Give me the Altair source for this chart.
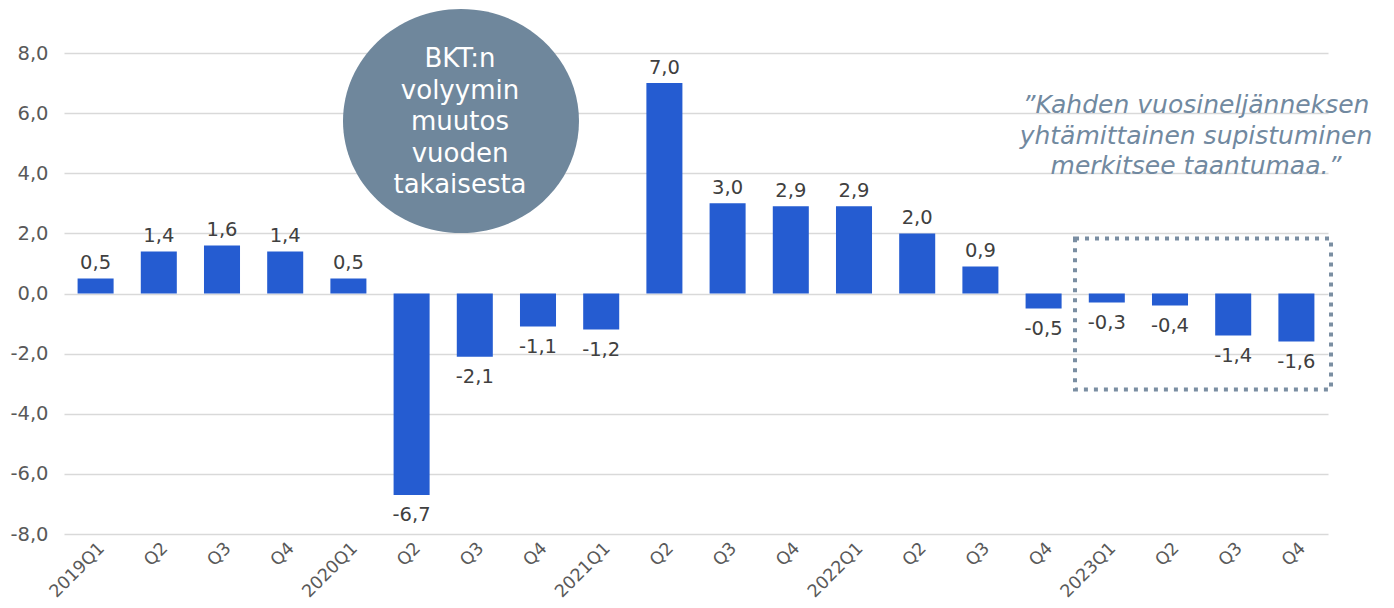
import altair as alt
import pandas as pd

quarters = ["2019Q1", "2019Q2", "2019Q3", "2019Q4",
            "2020Q1", "2020Q2", "2020Q3", "2020Q4",
            "2021Q1", "2021Q2", "2021Q3", "2021Q4",
            "2022Q1", "2022Q2", "2022Q3", "2022Q4",
            "2023Q1", "2023Q2", "2023Q3", "2023Q4"]
values = [0.5, 1.4, 1.6, 1.4, 0.5, -6.7, -2.1, -1.1, -1.2, 7.0,
          3.0, 2.9, 2.9, 2.0, 0.9, -0.5, -0.3, -0.4, -1.4, -1.6]
y_ticks = [-8, -6, -4, -2, 0, 2, 4, 6, 8]
circle_lines = ["BKT:n", "volyymin", "muutos", "vuoden", "takaisesta"]
quote_lines = ["\u201dKahden vuosineljänneksen", "yhtämittainen supistuminen", "merkitsee taantumaa.\u201d"]
box_y = [1.83, -3.19]

labels = [f"{v:.1f}".replace(".", ",") for v in values]
df = pd.DataFrame({"q": quarters, "v": values, "lab": labels})
ann = pd.DataFrame({"a": [0]})

FONT = "DejaVu Sans"

x = alt.X("q:N", sort=quarters,
          scale=alt.Scale(paddingInner=0.43, paddingOuter=0.215),
          axis=alt.Axis(title=None, domain=False, ticks=False, grid=False,
                        labelAngle=-45, labelFontSize=17.5, labelColor="#595959",
                        labelFont=FONT, labelPadding=5,
                        labelExpr="slice(datum.value, 4) == 'Q1' ? datum.value : slice(datum.value, 4)"))
y = alt.Y("v:Q", scale=alt.Scale(domain=[-8, 8], nice=False, zero=False),
          axis=alt.Axis(title=None, domain=False, ticks=False, grid=True,
                        values=y_ticks, gridColor="#d9d9d9", gridWidth=1.5,
                        labelPadding=16, labelFontSize=19.5, labelColor="#595959",
                        labelFont=FONT,
                        labelExpr="replace(replace(format(datum.value, '.1f'), '.', ','), '\u2212', '-')"))

base = alt.Chart(df)
bars = base.mark_bar(color="#255CD1").encode(x=x, y=y)

pos = base.transform_filter("datum.v >= 0").mark_text(
    dy=-9, baseline="alphabetic", fontSize=19.5, color="#404040", font=FONT
).encode(x=x, y=y, text="lab:N")
neg = base.transform_filter("datum.v < 0").mark_text(
    dy=26, baseline="alphabetic", fontSize=19.5, color="#404040", font=FONT
).encode(x=x, y=y, text="lab:N")

box = alt.Chart(ann).mark_rect(
    fillOpacity=0, stroke="#7A8EA2", strokeWidth=4, strokeDash=[4, 6]
).encode(x=alt.value(1011), x2=alt.value(1267),
         y=alt.datum(box_y[0]), y2=alt.datum(box_y[1]))

ellipse = ("M 1 0 C 1 0.5247 0.5523 0.95 0 0.95 C -0.5523 0.95 -1 0.5247 -1 0 "
           "C -1 -0.5247 -0.5523 -0.95 0 -0.95 C 0.5523 -0.95 1 -0.5247 1 0 Z")
circle = alt.Chart(ann).mark_point(
    shape=ellipse, size=55696, filled=True, fill="#6F879C", opacity=1, strokeWidth=0
).encode(x=alt.value(397), y=alt.value(68))

circle_text = alt.Chart(ann).mark_text(
    text=circle_lines, lineHeight=31.5, fontSize=26, color="white",
    align="center", baseline="alphabetic", font=FONT
).encode(x=alt.value(396), y=alt.value(14))

quote = alt.Chart(ann).mark_text(
    text=quote_lines, lineHeight=30.5, fontSize=25, color="#7189A0",
    fontStyle="italic", align="center", baseline="alphabetic", font=FONT
).encode(x=alt.value(1132), y=alt.value(60))

chart = alt.layer(bars, pos, neg, box, circle, circle_text, quote).properties(
    width=1264, height=481,
    autosize=alt.AutoSizeParams(type="none"),
    padding={"left": 56, "top": 45, "right": 50, "bottom": 71}
).configure_view(strokeWidth=0)

chart.save("out.html", embed_options={"renderer": "svg", "actions": False})
